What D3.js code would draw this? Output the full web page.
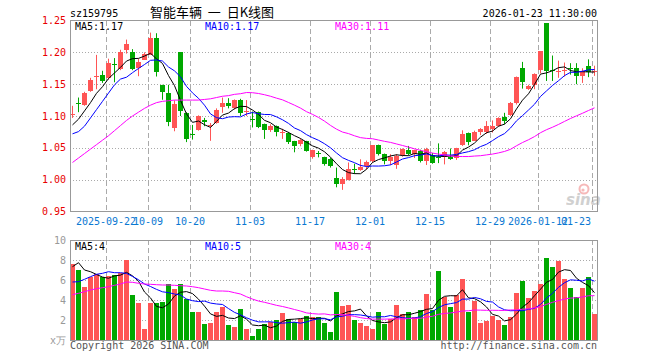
<!DOCTYPE html>
<meta charset="utf-8">
<style>
body { margin: 0; background: #fff; }
svg { display: block; font-family: "DejaVu Sans Mono", monospace; font-size: 10px; }
.frame { fill: none; stroke: #999; shape-rendering: crispEdges; }
.grid-h { stroke: #aaa; stroke-dasharray: 1,2; shape-rendering: crispEdges; }
.grid-v { stroke: #aaa; stroke-dasharray: 5,3; shape-rendering: crispEdges; }
.ma { fill: none; stroke-width: 1px; }
.tick-x { fill: #0a78d2; text-anchor: middle; }
.tick-p { fill: #e80000; text-anchor: end; }
.tick-v { fill: #999; text-anchor: end; }
</style>
<body>
<div id="kline"></div>
<script src="https://d3js.org/d3.v7.min.js"></script>
<script>
// daily bars, 2025-09-12 .. 2026-01-23
var open = [1.101,1.120,1.117,1.139,1.161,1.164,1.159,1.182,1.175,1.203,
    1.200,1.175,1.189,1.197,1.223,1.149,1.136,1.081,1.200,1.104,
    1.072,1.079,1.093,1.084,1.089,1.114,1.121,1.112,1.125,1.106,
    1.095,1.106,1.087,1.078,1.084,1.074,1.073,1.060,1.0565,1.060,
    1.035,1.042,1.035,1.032,1.002,0.993,1.000,1.017,1.015,1.021,
    1.029,1.054,1.040,1.029,1.024,1.038,1.046,1.039,1.045,1.029,
    1.039,1.036,1.036,1.036,1.033,1.054,1.073,1.062,1.074,1.074,
    1.080,1.085,1.099,1.1025,1.121,1.1755,1.142,1.149,1.171,1.246,
    1.172,1.170,1.170,1.175,1.175,1.162,1.1786,1.170];
var close = [1.103,1.119,1.136,1.157,1.163,1.155,1.183,1.180,1.201,1.2125,
    1.174,1.185,1.198,1.223,1.169,1.1375,1.090,1.119,1.107,1.063,
    1.071,1.1005,1.090,1.086,1.110,1.121,1.116,1.125,1.104,1.108,
    1.094,1.082,1.078,1.085,1.074,1.075,1.059,1.0525,1.063,1.045,
    1.046,1.041,1.024,1.021,0.993,1.0005,1.017,1.016,1.020,1.028,
    1.054,1.040,1.029,1.035,1.0375,1.048,1.039,1.046,1.029,1.048,
    1.026,1.035,1.044,1.033,1.049,1.071,1.059,1.0755,1.079,1.084,
    1.084,1.097,1.092,1.121,1.1614,1.153,1.147,1.166,1.2016,1.171,
    1.170,1.171,1.172,1.173,1.162,1.170,1.169,1.171];
var high = [1.116,1.129,1.138,1.160,1.196,1.171,1.190,1.191,1.204,1.220,
    1.205,1.190,1.200,1.231,1.230,1.149,1.149,1.1245,1.200,1.106,
    1.086,1.101,1.097,1.089,1.112,1.129,1.128,1.126,1.127,1.125,
    1.107,1.107,1.088,1.087,1.085,1.080,1.075,1.061,1.065,1.061,
    1.047,1.045,1.036,1.034,1.019,1.004,1.027,1.025,1.032,1.030,
    1.054,1.055,1.041,1.040,1.040,1.049,1.053,1.047,1.047,1.050,
    1.042,1.057,1.045,1.049,1.050,1.0775,1.074,1.077,1.081,1.092,
    1.093,1.098,1.105,1.122,1.162,1.185,1.149,1.167,1.202,1.246,
    1.195,1.187,1.184,1.183,1.183,1.175,1.189,1.179];
var low = [1.097,1.106,1.116,1.138,1.142,1.152,1.157,1.153,1.172,1.198,
    1.172,1.1625,1.188,1.196,1.162,1.1255,1.084,1.076,1.100,1.059,
    1.063,1.077,1.084,1.061,1.088,1.105,1.112,1.110,1.100,1.100,
    1.082,1.081,1.064,1.075,1.068,1.064,1.056,1.043,1.0525,1.044,
    1.033,1.035,1.022,1.019,0.988,0.984,0.999,1.009,1.014,1.016,
    1.027,1.038,1.024,1.023,1.017,1.036,1.038,1.034,1.027,1.023,
    1.025,1.026,1.024,1.031,1.031,1.053,1.054,1.061,1.070,1.072,
    1.074,1.083,1.087,1.100,1.118,1.143,1.141,1.142,1.167,1.155,
    1.155,1.160,1.162,1.165,1.150,1.152,1.161,1.163];
// volume, 万
var vol = [7.57,7.0,5.33,6.27,6.6,6.27,6.4,6.5,6.67,8.0,
    4.5,3.73,1.1,3.73,3.73,3.83,5.6,5.1,5.6,4.07,
    2.83,2.83,1.6,1.73,2.83,3.33,1.5,1.33,3.13,1.13,
    0.43,1.13,1.6,1.83,2.0,2.73,2.1,1.77,2.1,2.4,
    2.33,2.33,1.67,0.83,4.83,3.4,3.5,2.0,1.73,1.4,
    1.13,2.8,1.6,2.13,3.5,2.6,2.8,2.33,3.0,4.6,
    3.0,6.9,4.33,3.33,4.5,6.1,2.83,3.93,1.73,1.93,
    2.4,2.0,1.5,2.33,4.73,5.9,4.23,4.93,5.6,8.2,
    7.3,7.93,6.13,5.2,4.33,5.2,6.3,2.63];

// moving averages before a full window exists (earlier days not shown)
var ma5Lead = [1.086,1.095,1.108,1.121];
var ma10Lead = [1.072,1.0755,1.084,1.097,1.110,1.123,1.136,1.149,1.158];
var ma30Lead = [1.027,1.034,1.041,1.048,1.055,1.062,1.069,1.077,1.085,1.093,
    1.100,1.106,1.112,1.117,1.121,1.123,1.124,1.125,1.125,1.125,
    1.125,1.125,1.126,1.127,1.129,1.131,1.132,1.134,1.135];
var vma5Lead = [7.33,7.73,7.0,6.83];
var vma10Lead = [5.8,5.83,6.07,6.33,6.57,6.67,6.83,6.73,6.73];
var vma30Lead = [4.53,4.67,4.83,5.0,5.13,5.23,5.33,5.47,5.6,5.8,
    5.77,5.67,5.6,5.57,5.53,5.5,5.5,5.47,5.43,5.4,
    5.33,5.23,5.1,4.97,4.9,4.9,4.87,4.73,4.6];

var tickIdx = [6,13,20,30,40,50,60,70,78,87];
var tickLabels = ["2025-09-22","10-09","10-20","11-03","11-17","12-01","12-15","12-29","2026-01-12","01-23"];
var priceTicks = [0.95,1.00,1.05,1.10,1.15,1.20,1.25];
var volTicks = [2,4,6,8,10];

var symbol = "sz159795", title = "智能车辆  一  日K线图", stamp = "2026-01-23 11:30:00";

function movingAvg(arr, n, lead) {
    return arr.map(function(v, i) {
        return i < n - 1 ? lead[i] : d3.mean(arr.slice(i - n + 1, i + 1));
    });
}

var left = 70, right = 597;
var pTop = 20.5, pBottom = 211.5, vTop = 240, vBottom = 340;
var red = "#ff5555", green = "#00a800";

var x = d3.scaleBand().domain(d3.range(close.length)).range([left, right]).paddingInner(1/6).paddingOuter(0);
var y = d3.scaleLinear().domain([0.95, 1.25]).range([pBottom, pTop]);
var yv = d3.scaleLinear().domain([0, 10]).range([vBottom, vTop]);
var cx = function(i) { return x(i) + x.bandwidth() / 2; };
var up = function(i) { return close[i] >= open[i]; };

var svg = d3.select("#kline").append("svg").attr("width", 660).attr("height", 360);

// header
svg.append("text").attr("x", 70).attr("y", 16.5).text(symbol);
svg.append("text").attr("x", 150).attr("y", 17)
    .style("font-family", "'Noto Sans CJK SC', sans-serif").style("font-size", "13px")
    .style("white-space", "pre").text(title);
svg.append("text").attr("x", 597).attr("y", 16.5).attr("text-anchor", "end").text(stamp);

// grids
svg.selectAll(".grid-h.p").data(priceTicks.slice(1, -1)).enter().append("line")
    .attr("class", "grid-h p")
    .attr("x1", left).attr("x2", right)
    .attr("y1", function(d) { return Math.round(y(d)) + 0.5; })
    .attr("y2", function(d) { return Math.round(y(d)) + 0.5; });
svg.selectAll(".grid-h.v").data(volTicks.slice(0, -1)).enter().append("line")
    .attr("class", "grid-h v")
    .attr("x1", left).attr("x2", right)
    .attr("y1", function(d) { return yv(d) + 0.5; })
    .attr("y2", function(d) { return yv(d) + 0.5; });
[[pTop, pBottom], [vTop, vBottom]].forEach(function(r) {
    svg.append("g").selectAll("line").data(tickIdx).enter().append("line")
        .attr("class", "grid-v")
        .attr("x1", function(d) { return x(d) + 0.5; })
        .attr("x2", function(d) { return x(d) + 0.5; })
        .attr("y1", r[0]).attr("y2", r[1]);
});

// price axis labels
svg.selectAll(".tick-p").data(priceTicks).enter().append("text")
    .attr("class", "tick-p")
    .attr("x", 66).attr("y", function(d) { return y(d) + 3.5; })
    .text(function(d) { return d.toFixed(2); });
svg.selectAll(".tick-v").data(volTicks).enter().append("text")
    .attr("class", "tick-v")
    .attr("x", 66).attr("y", function(d) { return yv(d) + 3.5; })
    .text(function(d) { return d; });
svg.append("text").attr("class", "tick-v").attr("x", 66).attr("y", 344).text("x万");

// date labels
svg.selectAll(".tick-x").data(tickIdx).enter().append("text")
    .attr("class", "tick-x")
    .attr("x", function(d) { return x(d); })
    .attr("y", 225)
    .text(function(d, i) { return tickLabels[i]; })
    .each(function() {
        var t = d3.select(this), w = this.getComputedTextLength();
        if (+t.attr("x") + w / 2 > 591) t.attr("x", 591).style("text-anchor", "end");
    });

// sina mark
var logo = svg.append("g").attr("opacity", 0.55);
logo.append("circle").attr("cx", 584).attr("cy", 189).attr("r", 4.5)
    .attr("fill", "none").attr("stroke", "#f08080").attr("stroke-width", 2);
logo.append("circle").attr("cx", 583).attr("cy", 190).attr("r", 1.6).attr("fill", "#f08080");
logo.append("text").attr("x", 566).attr("y", 205)
    .style("font-family", "'DejaVu Sans', sans-serif").style("font-size", "15px")
    .style("font-weight", "bold").style("font-style", "italic").attr("fill", "#aaa").text("sina");

// candles
var candle = svg.append("g").selectAll("g").data(d3.range(close.length)).enter().append("g")
    .style("fill", function(i) { return up(i) ? red : green; })
    .style("stroke", function(i) { return up(i) ? red : green; });
candle.append("line")
    .attr("x1", cx).attr("x2", cx)
    .attr("y1", function(i) { return y(high[i]); })
    .attr("y2", function(i) { return y(low[i]); });
candle.append("rect")
    .style("stroke", "none").attr("shape-rendering", "crispEdges")
    .attr("x", function(i) { return x(i); })
    .attr("width", x.bandwidth())
    .attr("y", function(i) { return Math.round(y(Math.max(open[i], close[i]))); })
    .attr("height", function(i) { return Math.max(1, Math.round(Math.abs(y(open[i]) - y(close[i])))); });

// volume bars
svg.append("g").selectAll("rect").data(d3.range(vol.length)).enter().append("rect")
    .attr("shape-rendering", "crispEdges")
    .style("fill", function(i) { return up(i) ? red : green; })
    .attr("x", function(i) { return x(i); })
    .attr("width", x.bandwidth())
    .attr("y", function(i) { return Math.round(yv(vol[i])); })
    .attr("height", function(i) { return vBottom - Math.round(yv(vol[i])); });

// MA lines
var colors = ["#000", "#0000ff", "#ff00ff"];
var priceMA = [movingAvg(close, 5, ma5Lead), movingAvg(close, 10, ma10Lead), movingAvg(close, 30, ma30Lead)];
var volMA = [movingAvg(vol, 5, vma5Lead), movingAvg(vol, 10, vma10Lead), movingAvg(vol, 30, vma30Lead)];
var linePrice = d3.line().x(function(d, i) { return cx(i); }).y(function(d) { return y(d); });
var lineVol = d3.line().x(function(d, i) { return cx(i); }).y(function(d) { return yv(d); });
priceMA.forEach(function(s, k) {
    svg.append("path").attr("class", "ma").attr("stroke", colors[k]).attr("d", linePrice(s));
});
volMA.forEach(function(s, k) {
    svg.append("path").attr("class", "ma").attr("stroke", colors[k]).attr("d", lineVol(s));
});

// legends
var names = ["MA5", "MA10", "MA30"], legendX = [75, 205, 335];
names.forEach(function(n, k) {
    var last = priceMA[k][priceMA[k].length - 1];
    svg.append("text").attr("x", legendX[k]).attr("y", 30).attr("fill", colors[k])
        .text(n + ":" + last.toFixed(2));
    var lastV = volMA[k][volMA[k].length - 1];
    svg.append("text").attr("x", legendX[k]).attr("y", 250).attr("fill", colors[k])
        .text(n + ":" + Math.floor(lastV));
});

// frames
svg.append("rect").attr("class", "frame").attr("x", left + 0.5).attr("y", pTop)
    .attr("width", right - left).attr("height", pBottom - pTop);
svg.append("rect").attr("class", "frame").attr("x", left + 0.5).attr("y", vTop + 0.5)
    .attr("width", right - left).attr("height", vBottom - vTop);

// footer
svg.append("text").attr("x", 70).attr("y", 349).attr("fill", "#555").text("Copyright 2026 SINA.COM");
svg.append("text").attr("x", 597).attr("y", 349).attr("text-anchor", "end").attr("fill", "#555")
    .text("http://finance.sina.com.cn");
</script>
